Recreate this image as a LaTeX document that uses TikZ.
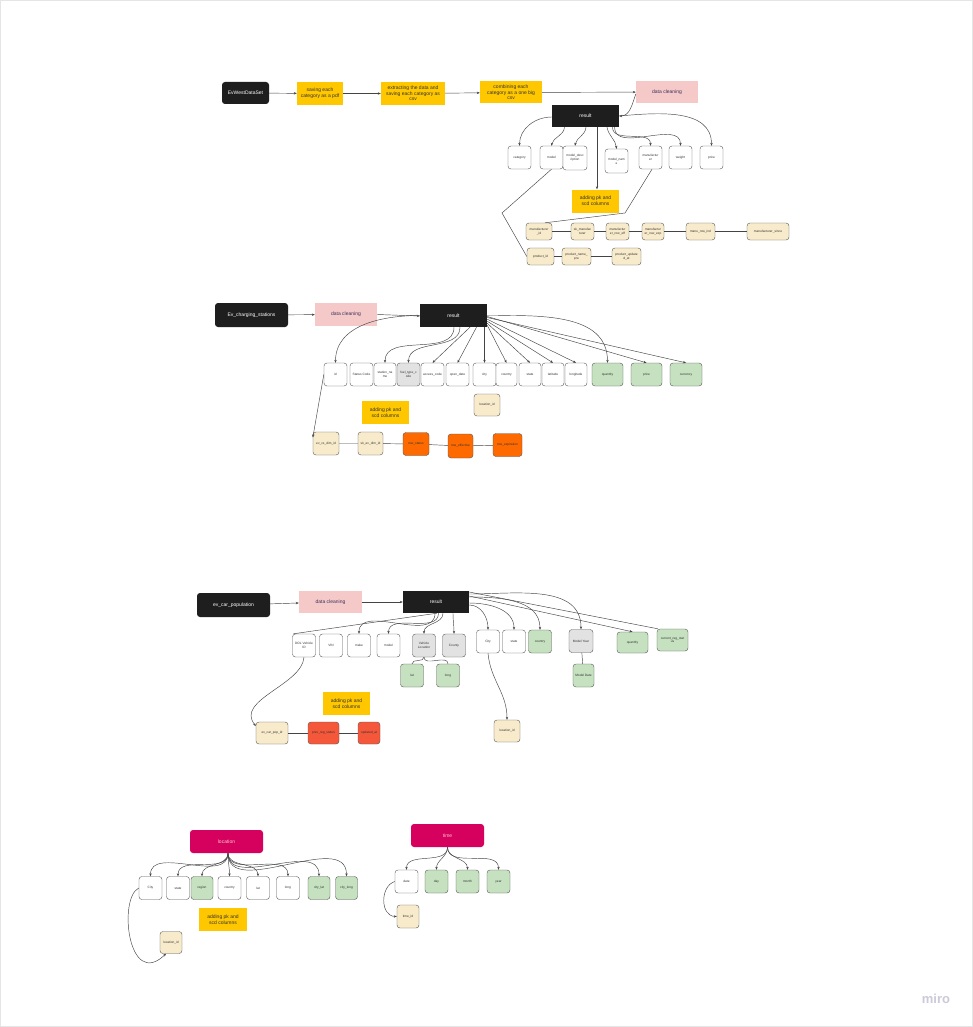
\documentclass[tikz,border=0pt]{standalone}
\usepackage{fontspec}
\setmainfont{Liberation Sans}
\usetikzlibrary{arrows.meta}
\definecolor{blk}{HTML}{1E1E1E}
\definecolor{yel}{HTML}{FFC700}
\definecolor{pnk}{HTML}{F6C9C9}
\definecolor{crm}{HTML}{F8EBCB}
\definecolor{grn}{HTML}{C5E1BF}
\definecolor{gry}{HTML}{E2E2E2}
\definecolor{org}{HTML}{FF6A00}
\definecolor{rdo}{HTML}{F4573A}
\definecolor{mag}{HTML}{D6005F}
\definecolor{lnc}{HTML}{444444}
\definecolor{txc}{HTML}{333333}
\definecolor{purp}{HTML}{3A2F5A}
\definecolor{miroc}{HTML}{CACAD8}
\tikzset{
  cell/.style={draw=lnc!90, line width=0.4pt, rounded corners=3pt, fill=white, minimum width=23pt, minimum height=23pt, inner sep=0pt, align=center, text=txc, font=\fontsize{3.2}{3.9}\selectfont},
  ccell/.style={cell, fill=crm},
  gcell/.style={cell, fill=grn},
  grcell/.style={cell, fill=gry},
  ocell/.style={cell, fill=org},
  rcell/.style={cell, fill=rdo},
  darkbox/.style={fill=blk, rounded corners=3pt, inner sep=0pt, text=white, font=\fontsize{5}{6}\selectfont},
  resbox/.style={fill=blk, inner sep=0pt, text=white, minimum width=67pt, minimum height=22pt, font=\fontsize{5}{6}\selectfont},
  ybox/.style={fill=yel, inner sep=0pt, align=center, text=txc, font=\fontsize{5}{5.6}\selectfont},
  pbox/.style={fill=pnk, inner sep=0pt, text=purp, minimum width=62pt, minimum height=22pt, font=\fontsize{5}{6}\selectfont},
  magbox/.style={fill=mag, rounded corners=3pt, inner sep=0pt, text=pnk, minimum width=73pt, minimum height=23pt, font=\fontsize{5}{6}\selectfont},
  arr/.style={draw=lnc, line width=0.45pt, -{Stealth[length=3pt,width=2.4pt]}},
  ln/.style={draw=lnc, line width=0.45pt},
}
\begin{document}
\begin{tikzpicture}[x=1pt,y=-1pt]
\useasboundingbox (0,0) rectangle (973,1027);
\fill[white] (0,0) rectangle (973,1027);
\draw[gray!20, line width=0.6pt] (0.5,0.5) rectangle (972.5,1026.5);

% ---------------- Section 1 ----------------
\node[darkbox, minimum width=47pt, minimum height=22pt] (ew) at (245.5,93) {EvWestDataSet};
\node[ybox, minimum width=46pt, minimum height=23pt] (s1) at (320,93.5) {saving each\\category as a pdf};
\node[ybox, minimum width=64pt, minimum height=23pt] (s2) at (413,93.5) {extracting the data and\\saving each category as\\csv};
\node[ybox, minimum width=62pt, minimum height=22pt] (s3) at (511,92.5) {combining each\\category as a one big\\csv};
\node[pbox] (dc1) at (667,92) {data cleaning};
\node[resbox] (r1) at (585.5,116) {result};

\node[cell] (c1cat) at (519.5,157.5) {category};
\node[cell] (c1model) at (551.5,157.5) {model};
\node[cell, minimum width=24pt, minimum height=24pt] (c1md) at (575,158) {model\_desc\\ription};
\node[cell, minimum height=24pt] (c1mn) at (616.5,161) {model\_nam\\e};
\node[cell] (c1mf) at (650.5,157.5) {manufactur\\er};
\node[cell] (c1w) at (680.5,157.5) {weight};
\node[cell] (c1p) at (711.5,157.5) {price};

\node[ybox, minimum width=47pt, minimum height=23pt] (ad1) at (595.5,201) {adding pk and\\scd columns};

\node[ccell, minimum width=26pt, minimum height=17pt] (m1) at (539,231.5) {manufacturer\\\_id};
\node[ccell, minimum height=17pt] (m2) at (582.5,231.5) {sk\_manufac\\turer};
\node[ccell, minimum height=17pt] (m3) at (617.5,231.5) {manufactur\\er\_row\_eff};
\node[ccell, minimum width=22pt, minimum height=17pt] (m4) at (653,231.5) {manufactur\\er\_row\_exp};
\node[ccell, minimum width=29pt, minimum height=17pt] (m5) at (700.5,231.5) {manu\_row\_ind};
\node[ccell, minimum width=42pt, minimum height=17pt] (m6) at (768,231.5) {manufacturer\_since};

\node[ccell, minimum width=27pt, minimum height=17pt] (p1) at (540.5,256.5) {product\_id};
\node[ccell, minimum width=29pt, minimum height=17pt] (p2) at (576.5,256.5) {product\_name\_\\pre};
\node[ccell, minimum width=29pt, minimum height=17pt] (p3) at (626.5,256.5) {product\_update\\d\_at};

\draw[arr] (ew) -- (s1);
\draw[arr] (s1) -- (s2);
\draw[arr] (s2) -- (s3);
\draw[arr] (s3) -- (dc1);
\draw[arr] ([yshift=-2pt]dc1.west) to[out=-110,in=0] (r1.east);
\draw[arr] (r1.east) to[out=5,in=90] (c1p.north);
\draw[arr] ([yshift=-1pt]r1.west) to[out=180,in=90] (c1cat.north);
\draw[arr] ([xshift=-21pt]r1.south) to[out=-95,in=80] (c1model.north);
\draw[arr] ([xshift=0.5pt]r1.south) to[out=-95,in=80] (c1md.north);
\draw[arr] ([xshift=11.5pt]r1.south) -- ([xshift=1.5pt]ad1.north);
\draw[arr] ([xshift=21.5pt]r1.south) to[out=-80,in=95] (c1mn.north);
\draw[arr] ([xshift=27pt]r1.south) to[out=-90,in=90] (c1mf.north);
\draw[arr] ([xshift=29pt]r1.south) to[out=-90,in=90] (c1w.north);
\draw[ln] (c1model.south) -- (502,213) -- (p1.west);
\draw[ln] ([xshift=1.5pt]c1mf.south) -- (625,213) -- ([xshift=6pt]m1.north);
\draw[ln] (m1) -- (m2) -- (m3) -- (m4) -- (m5) -- (m6);
\draw[ln] (p1) -- (p2) -- (p3);

% ---------------- Section 2 ----------------
\node[darkbox, minimum width=73pt, minimum height=24pt] (ev2) at (251.5,315) {Ev\_charging\_stations};
\node[pbox, minimum height=23pt] (dc2) at (346,314.5) {data cleaning};
\node[resbox, minimum height=23pt] (r2) at (453.5,315.5) {result};

\node[cell] (d_id) at (335.5,374.5) {id};
\node[cell] (d_sc) at (361.5,374.5) {Status Code};
\node[cell, minimum width=22pt] (d_sn) at (385,374.5) {station\_na\\me};
\node[grcell] (d_ft) at (408.5,374.5) {fuel\_type\_c\\ode};
\node[cell] (d_ac) at (432.5,374.5) {access\_code};
\node[cell] (d_od) at (457.5,374.5) {open\_date};
\node[cell] (d_city) at (484.5,374.5) {city};
\node[cell, minimum width=21pt] (d_ctry) at (506.5,374.5) {country};
\node[cell, minimum width=22pt] (d_st) at (530,374.5) {state};
\node[cell, minimum width=22pt] (d_lat) at (553,374.5) {latitude};
\node[cell, minimum width=22pt] (d_lon) at (576,374.5) {longitude};
\node[gcell, minimum width=31pt] (d_q) at (607.5,374.5) {quantity};
\node[gcell, minimum width=31pt] (d_pr) at (646.5,374.5) {price};
\node[gcell, minimum width=32pt] (d_cu) at (686,374.5) {currency};

\node[ccell, minimum width=26pt, minimum height=22pt] (loc2) at (487,405) {location\_id};
\node[ybox, minimum width=47pt, minimum height=23pt] (ad2) at (385.5,412.5) {adding pk and\\scd columns};

\node[ccell, minimum width=26pt] (e1) at (326,443.5) {ev\_cs\_dim\_id};
\node[ccell, minimum width=25pt] (e2) at (370.5,443.5) {sk\_ev\_dim\_id};
\node[ocell, minimum width=26pt] (e3) at (416,444) {row\_status};
\node[ocell, minimum width=25pt, minimum height=24pt] (e4) at (460.5,446) {row\_effective};
\node[ocell, minimum width=29pt] (e5) at (507.5,445) {row\_expiration};

\draw[arr] (ev2) -- (dc2);
\draw[arr] (dc2.east) -- ([yshift=-0.5pt]r2.west);
\draw[arr] (r2.west) to[out=180,in=90] (d_id.north);
\draw[arr] ([xshift=0.5pt]r2.south) to[out=-90,in=90] (d_sn.north);
\draw[arr] ([xshift=6.5pt]r2.south) to[out=-90,in=90] (d_ft.north);
\draw[arr] ([xshift=16.5pt]r2.south) -- (d_ac.north);
\draw[arr] ([xshift=23pt]r2.south) -- (d_od.north);
\draw[arr] ([xshift=31pt]r2.south) -- (d_city.north);
\draw[arr] ([yshift=2pt]r2.south east) -- (d_ctry.north);
\draw[arr] ([yshift=4pt]r2.south east) -- (d_st.north);
\draw[arr] ([yshift=6pt]r2.south east) -- (d_lat.north);
\draw[arr] ([yshift=8pt]r2.south east) -- (d_lon.north);
\draw[arr] (r2.east) to[out=0,in=90] (d_q.north);
\draw[arr] ([yshift=-1pt]r2.east) -- (d_pr.north);
\draw[arr] ([yshift=-2pt]r2.east) -- (d_cu.north);
\draw[arr] (d_id.west) -- ([yshift=6pt]e1.west);
\draw[ln] (e1) -- (e2) -- (e3) -- (e4) -- (e5);

% ---------------- Section 3 ----------------
\node[darkbox, minimum width=73pt, minimum height=24pt] (ev3) at (233.5,605) {ev\_car\_population};
\node[pbox, minimum width=63pt] (dc3) at (330.5,602) {data cleaning};
\node[resbox, minimum width=66pt] (r3) at (436,602) {result};

\node[cell] (f_dol) at (304,645.5) {DOL Vehicle\\ID};
\node[cell] (f_vin) at (331,645.5) {VIN};
\node[cell] (f_make) at (359,645.5) {make};
\node[cell] (f_model) at (388.5,645.5) {model};
\node[grcell] (f_vl) at (424,645.5) {Vehicle\\Location};
\node[grcell] (f_cty) at (454,645.5) {County};
\node[cell] (f_city) at (488,641.5) {City};
\node[cell] (f_state) at (514,641.5) {state};
\node[gcell] (f_ctry) at (540,641.5) {country};
\node[grcell, minimum width=24pt] (f_my) at (581,641) {Model Year};
\node[gcell, minimum width=31pt, minimum height=21pt] (f_q) at (632.5,642.5) {quantity};
\node[gcell, minimum width=31pt, minimum height=22pt] (f_crs) at (672.5,640) {current\_reg\_stat\\us};
\node[gcell] (f_lat) at (412,675.5) {lat};
\node[gcell] (f_long) at (448,675.5) {long};
\node[gcell, minimum width=21pt] (f_md) at (583.5,675.5) {Model Date};
\node[ccell, minimum width=26pt, minimum height=22pt] (loc3) at (507,731) {location\_id};
\node[ybox, minimum width=47pt, minimum height=23pt] (ad3) at (346.5,703.5) {adding pk and\\scd columns};
\node[ccell, minimum width=32pt, minimum height=22pt] (g1) at (272,733) {ev\_car\_pop\_id};
\node[rcell, minimum width=31pt, minimum height=22pt] (g2) at (323.5,733) {prev\_reg\_status};
\node[rcell, minimum width=22pt, minimum height=22pt] (g3) at (369,733) {updated\_at};

\draw[arr] (ev3) -- (dc3);
\draw[arr] (dc3) -- (r3);
\draw[ln] ([xshift=1pt]r3.south) -- ([xshift=1pt]f_dol.north west);
\draw[arr] ([xshift=-1pt]r3.south) to[out=-90,in=90] (f_make.north);
\draw[arr] ([xshift=2.5pt]r3.south) to[out=-90,in=90] (f_model.north);
\draw[arr] ([xshift=7pt]r3.south) to[out=-90,in=90] (f_vl.north);
\draw[arr] ([xshift=17pt]r3.south) to[out=-90,in=90] (f_cty.north);
\draw[arr] ([yshift=-3pt]r3.east) to[out=0,in=90] (f_city.north);
\draw[arr] ([yshift=-1pt]r3.east) to[out=0,in=90] (f_state.north);
\draw[arr] ([yshift=5pt]r3.east) to[out=0,in=90] (f_ctry.north);
\draw[arr] ([yshift=8pt]r3.east) to[out=0,in=90] (f_my.north);
\draw[arr] ([yshift=6pt]r3.east) -- (f_q.north);
\draw[ln] ([yshift=10pt]r3.east) -- ([xshift=1pt]f_crs.north west);
\draw[ln] (f_vl.south) to[out=-90,in=90] (f_lat.north);
\draw[ln] (f_vl.south) to[out=-90,in=90] (f_long.north);
\draw[ln] (f_my) -- (f_md);
\draw[arr] (f_city.south) to[out=-85,in=90] (loc3.north);
\draw[arr] (f_dol.south) .. controls (302,685) and (235,700) .. ([yshift=7pt]g1.west);
\draw[ln] (g1) -- (g2) -- (g3);

% ---------------- Section 4 ----------------
\node[magbox] (loc) at (226.5,841.5) {location};
\node[cell] (h_city) at (150.5,888) {City};
\node[cell] (h_state) at (178,888) {state};
\node[gcell, minimum width=22pt] (h_region) at (202,888) {region};
\node[cell] (h_ctry) at (229.5,888) {country};
\node[cell] (h_lat) at (258,888) {lat};
\node[cell] (h_long) at (288,888) {long};
\node[gcell, minimum width=22pt] (h_clat) at (319,888) {city\_lat};
\node[gcell, minimum width=22pt] (h_clong) at (346.5,888) {city\_long};
\node[ybox, minimum width=48pt, minimum height=23pt] (ad4) at (223,919.5) {adding pk and\\scd columns};
\node[ccell, minimum width=22pt, minimum height=22pt] (loc4) at (171,942.5) {location\_id};

\foreach \t in {h_city,h_state,h_region,h_ctry,h_lat,h_long,h_clat,h_clong}
  \draw[arr] ([xshift=1.5pt]loc.south) to[out=-90,in=90] (\t.north);
\draw[arr] (h_city.west) .. controls (118,898) and (128,990) .. ([xshift=-5pt]loc4.south);

\node[magbox] (tm) at (447.5,835.5) {time};
\node[cell] (t_date) at (406.5,881.5) {date};
\node[gcell] (t_day) at (436.5,881.5) {day};
\node[gcell] (t_month) at (467.5,881.5) {month};
\node[gcell] (t_year) at (498.5,881.5) {year};
\node[ccell, minimum width=22pt] (t_id) at (408,916.5) {time\_id};
\foreach \t in {t_date,t_day,t_month,t_year}
  \draw[arr] (tm.south) to[out=-90,in=90] (\t.north);
\draw[arr] (t_date.west) .. controls (380,886) and (380,916) .. (t_id.west);

\node[text=miroc, font=\fontsize{13}{14}\selectfont\bfseries] (miro) at (936,999) {miro};
\end{tikzpicture}
\end{document}
